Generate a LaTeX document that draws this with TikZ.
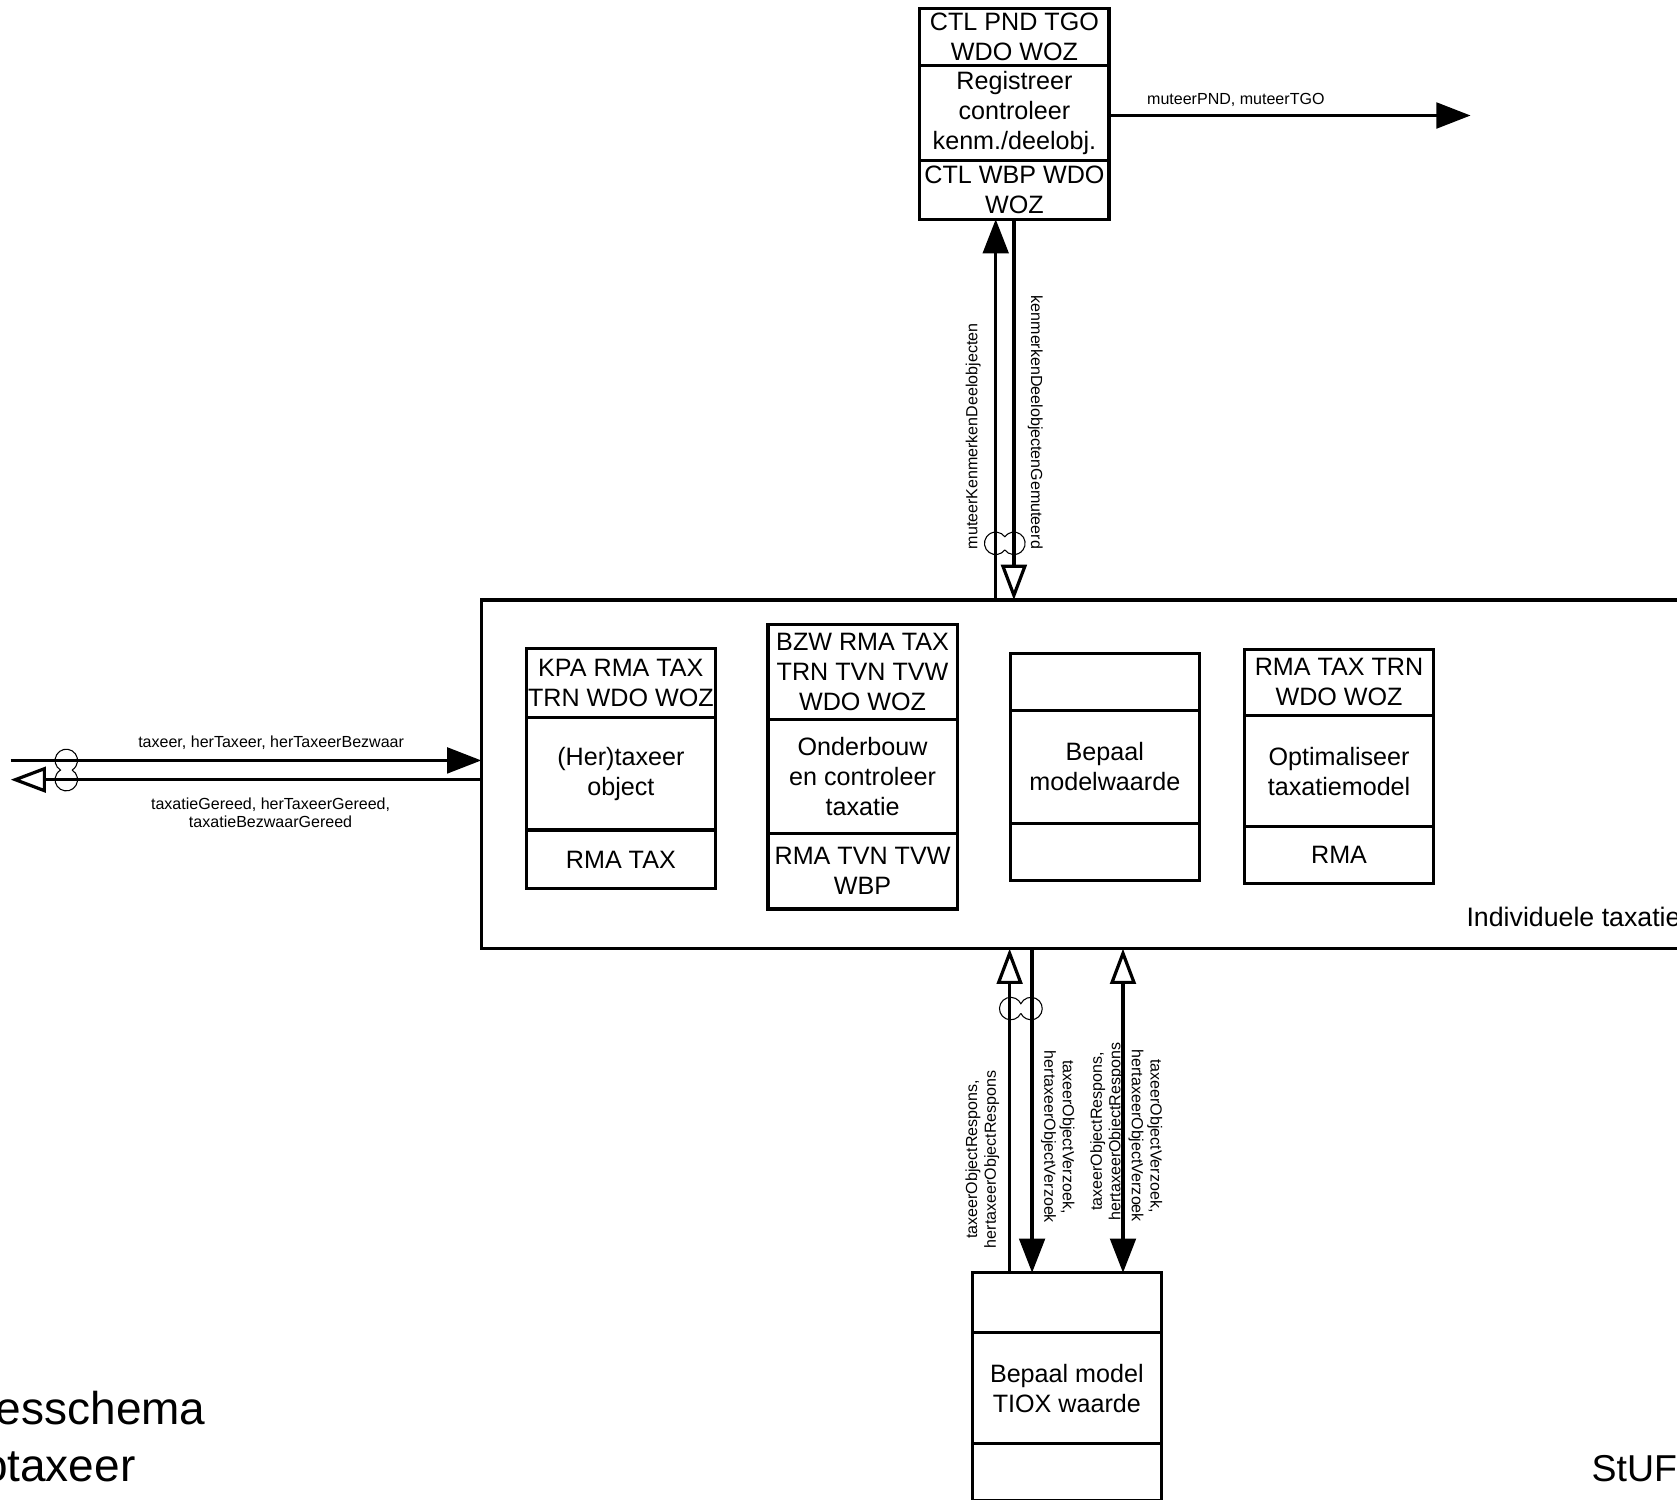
\documentclass[tikz,border=0pt]{standalone}
\usepackage{fontspec}
\setmainfont{Liberation Sans}
\usetikzlibrary{arrows.meta,positioning}

\tikzset{
  vak/.style={draw, line width=3pt, outer sep=0pt, inner sep=0pt, minimum width=177pt, align=center, font=\fontsize{23.5}{28}\selectfont},
  lab/.style={inner sep=0pt, align=center, font=\fontsize{15}{17.5}\selectfont},
  vol/.style={line width=3pt, -{Triangle[length=32pt,width=24pt]}},
  hol/.style={line width=3pt, -{Triangle[open,length=33pt,width=24pt]}},
  lus/.pic={
    \pgfmathsetmacro\ha{acos(#1/10.5)}
    \draw[line width=1pt] (-#1,0) ++(\ha:10.5) arc[start angle=\ha, end angle=360-\ha, radius=10.5]
      arc[start angle=180+\ha, end angle=540-\ha, radius=10.5];
  }
}

\begin{document}
\begin{tikzpicture}[x=1pt, y=-1pt]
  \useasboundingbox (0,0) rectangle (1568,1402);
  \fill[white] (0,0) rectangle (1568,1402);
  \clip (0,0) rectangle (1568,1402);

  % Individuele taxatie
  \node[draw, line width=3pt, outer sep=0pt, minimum width=1210pt, minimum height=326pt] (ind) at (1055,724) {};
  \node[anchor=base west, inner sep=0pt, font=\fontsize{25}{28}\selectfont] (indlbl) at (1371,866) {Individuele taxatie};

  % Registreer boven
  \node[vak, minimum height=53pt] (r1) at (948.5,34.5) {CTL PND TGO\\WDO WOZ};
  \node[vak, minimum height=89pt, below=0pt of r1] (r2) {Registreer\\controleer\\kenm./deelobj.};
  \node[vak, minimum height=55pt, below=0pt of r2] (r3) {CTL WBP WDO\\WOZ};

  % (Her)taxeer
  \node[vak, minimum height=65pt] (a1) at (580.5,638.5) {KPA RMA TAX\\TRN WDO WOZ};
  \node[vak, minimum height=105pt, below=0pt of a1] (a2) {(Her)taxeer\\object};
  \node[vak, minimum height=55pt, below=0pt of a2] (a3) {RMA TAX};

  % Onderbouw
  \node[vak, minimum height=89pt] (b1) at (806.5,628.5) {BZW RMA TAX\\TRN TVN TVW\\WDO WOZ};
  \node[vak, minimum height=106pt, below=0pt of b1] (b2) {Onderbouw\\en controleer\\taxatie};
  \node[vak, minimum height=71pt, below=0pt of b2] (b3) {RMA TVN TVW\\WBP};

  % Bepaal modelwaarde
  \node[vak, minimum height=53pt] (c1) at (1033,637.5) {};
  \node[vak, minimum height=106pt, below=0pt of c1] (c2) {Bepaal\\modelwaarde};
  \node[vak, minimum height=53pt, below=0pt of c2] (c3) {};

  % Optimaliseer
  \node[vak, minimum height=62pt] (d1) at (1252,638) {RMA TAX TRN\\WDO WOZ};
  \node[vak, minimum height=104pt, below=0pt of d1] (d2) {Optimaliseer\\taxatiemodel};
  \node[vak, minimum height=53pt, below=0pt of d2] (d3) {RMA};

  % TIOX onder
  \node[vak, minimum height=56pt] (e1) at (997.5,1218) {};
  \node[vak, minimum height=104pt, below=0pt of e1] (e2) {Bepaal model\\TIOX waarde};
  \node[vak, minimum height=53pt, below=0pt of e2] (e3) {};

  % posities pijlen
  \coordinate (k1) at (931,0);
  \coordinate (k2) at (948,0);
  \coordinate (k3) at (944,0);
  \coordinate (k4) at (965,0);
  \coordinate (k5) at (1050,0);
  \coordinate (uit) at (1375,108);
  \coordinate (in1) at (10,711);
  \coordinate (in2) at (10,729);

  % boven
  \draw[vol] (k1 |- ind.north) -- (k1 |- r3.south);
  \draw[hol] (k2 |- r3.south) -- (k2 |- ind.north);
  \draw[vol] (r2.east |- uit) -- (uit);
  \pic at (939.5,508) {lus=8.5};

  % links
  \draw[vol] (in1) -- (in1 -| ind.west);
  \draw[hol] (in2 -| ind.west) -- (in2);
  \pic[rotate=90] at (62,720) {lus=9};

  % onder
  \draw[hol] (k3 |- e1.north) -- (k3 |- ind.south);
  \draw[vol] (k4 |- ind.south) -- (k4 |- e1.north);
  \draw[line width=3pt, {Triangle[open,length=33pt,width=24pt]}-{Triangle[length=32pt,width=24pt]}] (k5 |- ind.south) -- (k5 |- e1.north);
  \pic at (954.5,943) {lus=9.5};

  % labels
  \node[lab] (l1) at (1155.5,93) {muteerPND, muteerTGO};
  \node[lab] (l2) at (253.5,694) {taxeer, herTaxeer, herTaxeerBezwaar};
  \node[lab] (l3) at (253,760) {taxatieGereed, herTaxeerGereed,\\taxatieBezwaarGereed};
  \node[lab, rotate=90] (l4) at (910,408) {muteerKenmerkenDeelobjecten};
  \node[lab, rotate=-90] (l5) at (968,395) {kenmerkenDeelobjectenGemuteerd};
  \node[lab, rotate=90] (l6) at (918.5,1084) {taxeerObjectRespons,\\hertaxeerObjectRespons};
  \node[lab, rotate=-90] (l7) at (989,1063) {taxeerObjectVerzoek,\\hertaxeerObjectVerzoek};
  \node[lab, rotate=90] (l8) at (1035,1058) {taxeerObjectRespons,\\hertaxeerObjectRespons};
  \node[lab, rotate=-90] (l9) at (1071,1062) {taxeerObjectVerzoek,\\hertaxeerObjectVerzoek};

  % titel
  \node[anchor=base west, inner sep=0pt, font=\fontsize{43}{50}\selectfont] (t1) at (-4,1332) {esschema};
  \node[anchor=base west, inner sep=0pt, font=\fontsize{43}{50}\selectfont] (t2) at (-17,1385) {otaxeer};
  \node[anchor=base west, inner sep=0pt, font=\fontsize{35}{40}\selectfont] (t3) at (1488,1385) {StUF};
\end{tikzpicture}
\end{document}
